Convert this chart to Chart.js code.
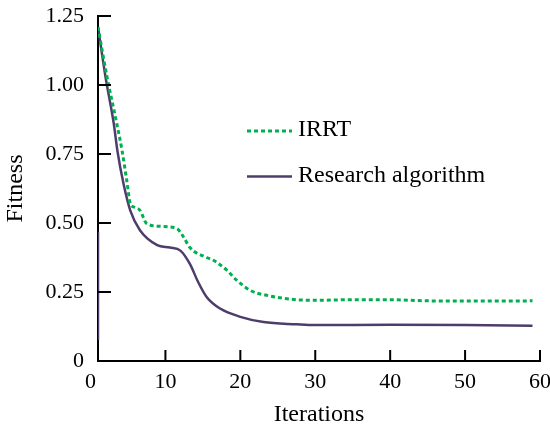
<!DOCTYPE html>
<html>
<head>
<meta charset="utf-8">
<script src="https://cdn.jsdelivr.net/npm/chart.js@4/dist/chart.umd.min.js"></script>
<style>
    html, body { margin: 0; padding: 0; background: #fff; }
    #wrap { width: 550px; height: 426px; }
</style>
</head>
<body>
<div id="wrap"><canvas id="fitnessChart" width="550" height="426"></canvas></div>
<script>
// ========== DATA ==========
const xTicks = [0, 10, 20, 30, 40, 50, 60];
const yTicks = [0, 0.25, 0.5, 0.75, 1.0, 1.25];

const irrtX = [1, 2.2, 3.5, 4.2, 4.9, 5.3, 6.0, 6.6, 7.5, 9.3, 11.5, 12.4, 13.3, 15.5, 16.4, 18.2, 19.5, 21.3, 23.5, 27.5, 30, 35, 40, 45, 50, 55, 59];
const irrtY = [1.21, 1.03, 0.861, 0.764, 0.643, 0.571, 0.556, 0.546, 0.498, 0.488, 0.48, 0.45, 0.41, 0.375, 0.365, 0.329, 0.293, 0.256, 0.238, 0.222, 0.22, 0.222, 0.222, 0.218, 0.217, 0.217, 0.218];

const researchX = [1, 2, 3.1, 3.6, 4.4, 5.3, 6.6, 8.9, 10.6, 12, 13.3, 14.3, 15.5, 17.3, 20, 23.1, 27.5, 30, 40, 50, 59];
const researchY = [1.21, 1.03, 0.861, 0.76, 0.643, 0.546, 0.474, 0.42, 0.411, 0.40, 0.35, 0.29, 0.232, 0.19, 0.16, 0.141, 0.133, 0.13, 0.131, 0.13, 0.128];

// short vertical piece of the research curve visible along the y axis
const researchStartX = [1, 1];
const researchStartY = [0.075, 0.468];

const GREEN = '#00b050';
const PURPLE = '#4e3d6b';
const FONT = "'Liberation Serif', 'Times New Roman', serif";

function toPoints(xs, ys) {
    return xs.map((x, i) => ({ x: x, y: ys[i] }));
}

// ========== PLUGINS ==========
// inward tick marks
const innerTicks = {
    id: 'innerTicks',
    afterDraw(chart) {
        const ctx = chart.ctx;
        const xs = chart.scales.x;
        const ys = chart.scales.y;
        const area = chart.chartArea;
        ctx.save();
        ctx.strokeStyle = '#000';
        ctx.lineWidth = 2;
        ctx.beginPath();
        xTicks.forEach(v => {
            if (v <= xs.min || v > xs.max) return;
            const px = xs.getPixelForValue(v);
            ctx.moveTo(px, area.bottom);
            ctx.lineTo(px, area.bottom - 11);
        });
        yTicks.forEach(v => {
            if (v <= ys.min) return;
            const py = ys.getPixelForValue(v);
            ctx.moveTo(area.left, py);
            ctx.lineTo(area.left + 13, py);
        });
        ctx.stroke();
        ctx.restore();
    }
};

// legend drawn inside the plot
const insideLegend = {
    id: 'insideLegend',
    afterDraw(chart) {
        const ctx = chart.ctx;
        const items = [
            { text: 'IRRT', color: GREEN, dash: [4, 3], y: 131 },
            { text: 'Research algorithm', color: PURPLE, dash: [], y: 176.5 }
        ];
        ctx.save();
        ctx.font = '24px ' + FONT;
        ctx.textBaseline = 'middle';
        ctx.textAlign = 'left';
        items.forEach(it => {
            ctx.strokeStyle = it.color;
            ctx.lineWidth = it.dash.length ? 3 : 2.5;
            ctx.setLineDash(it.dash);
            ctx.beginPath();
            ctx.moveTo(247, it.y);
            ctx.lineTo(292, it.y);
            ctx.stroke();
            ctx.setLineDash([]);
            ctx.fillStyle = '#000';
            ctx.fillText(it.text, 298, it.y - 1);
        });
        ctx.restore();
    }
};

// ========== CHART ==========
const canvas = document.getElementById('fitnessChart');
new Chart(canvas, {
    type: 'line',
    data: {
        datasets: [{
            label: 'IRRT',
            data: toPoints(irrtX, irrtY),
            borderColor: GREEN,
            borderWidth: 3,
            borderDash: [4, 3],
            pointRadius: 0,
            cubicInterpolationMode: 'monotone',
            fill: false
        }, {
            label: 'Research algorithm',
            data: toPoints(researchX, researchY),
            borderColor: PURPLE,
            borderWidth: 2.5,
            pointRadius: 0,
            cubicInterpolationMode: 'monotone',
            fill: false
        }, {
            label: 'start',
            data: toPoints(researchStartX, researchStartY),
            borderColor: PURPLE,
            borderWidth: 2.5,
            pointRadius: 0,
            fill: false
        }]
    },
    options: {
        responsive: false,
        animation: false,
        events: [],
        layout: {
            padding: { top: 16, right: 0, bottom: 0, left: 0 }
        },
        plugins: {
            legend: { display: false },
            tooltip: { enabled: false }
        },
        scales: {
            x: {
                type: 'linear',
                min: 1,
                max: 60,
                grid: { display: false, drawTicks: false },
                border: { display: true, color: '#000', width: 2 },
                afterBuildTicks: function(scale) {
                    scale.ticks = xTicks.map(v => ({ value: v }));
                },
                afterFit: function(scale) {
                    scale.height = 65;
                    scale.paddingLeft = 0;
                    scale.paddingRight = 10;
                },
                ticks: {
                    color: '#000',
                    font: { family: FONT, size: 22 },
                    padding: 8,
                    maxRotation: 0,
                    autoSkip: false,
                    callback: v => String(v)
                },
                title: {
                    display: true,
                    text: 'Iterations',
                    color: '#000',
                    font: { family: FONT, size: 24 },
                    padding: { top: 0, bottom: -3 }
                }
            },
            y: {
                type: 'linear',
                min: 0,
                max: 1.25,
                grid: { display: false, drawTicks: false },
                border: { display: true, color: '#000', width: 2 },
                afterBuildTicks: function(scale) {
                    scale.ticks = yTicks.map(v => ({ value: v }));
                },
                afterFit: function(scale) {
                    scale.width = 98;
                    scale.paddingTop = 0;
                    scale.paddingBottom = 0;
                },
                ticks: {
                    color: '#000',
                    font: { family: FONT, size: 22 },
                    padding: 14,
                    callback: v => (v === 0 ? '0' : v.toFixed(2))
                },
                title: {
                    display: true,
                    text: 'Fitness',
                    color: '#000',
                    font: { family: FONT, size: 24 },
                    padding: { top: 1, bottom: 0 }
                }
            }
        }
    },
    plugins: [innerTicks, insideLegend]
});
</script>
</body>
</html>
